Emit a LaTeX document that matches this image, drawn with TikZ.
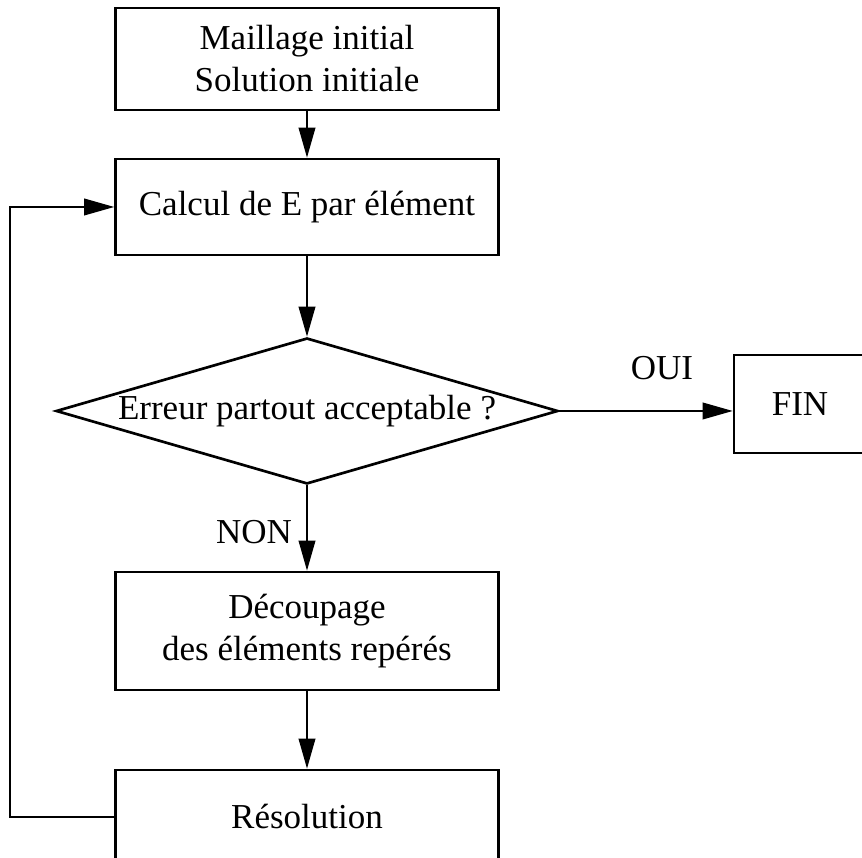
\documentclass[tikz,border=0pt]{standalone}
\usepackage{fontspec}
\setmainfont{Liberation Serif}
\usetikzlibrary{arrows.meta}
\usetikzlibrary{shapes.geometric}

\begin{document}
\begin{tikzpicture}[x=0.3pt,y=0.3pt,
		font=\fontsize{10.5}{12.6}\selectfont,
		box/.style={draw, line width=0.8pt, minimum width=114.9pt, align=center, inner sep=0pt},
		arr/.style={line width=0.5pt, -{Triangle[length=9pt,width=5pt]}}]
	\useasboundingbox (0,0) rectangle (862,858);
	% draw boxes
	\node[box, minimum height=30.6pt] (init) at (307,799) {Maillage initial\\Solution initiale};
	\node[box, minimum height=28.8pt] (calc) at (307,651) {Calcul de E par élément};
	\node[draw, line width=0.8pt, shape=diamond, aspect=3.44, inner sep=0pt,
		minimum width=150.6pt, minimum height=43.8pt] (test) at (307,447) {Erreur partout acceptable ?};
	\node[box, minimum width=39.6pt, minimum height=29.4pt] (fin) at (800,454) {FIN};
	\node[box, minimum height=35.4pt] (cut) at (307,227) {Découpage\\des éléments repérés};
	\node[box, minimum height=28.2pt] (res) at (307,41) {Résolution};
	% labels
	\node (oui) at (662,490) {OUI};
	\node (non) at (254,326) {NON};
	% draw arrows
	\draw[arr] (init) -- (calc);
	\draw[arr] (calc) -- (test);
	\draw[arr] (test.east) -- (test.east -| fin.west);
	\draw[arr] (test) -- (cut);
	\draw[arr] (cut) -- (res);
	\draw[arr] (res.west) -- ++(-104,0) |- (calc.west);
\end{tikzpicture}
\end{document}
